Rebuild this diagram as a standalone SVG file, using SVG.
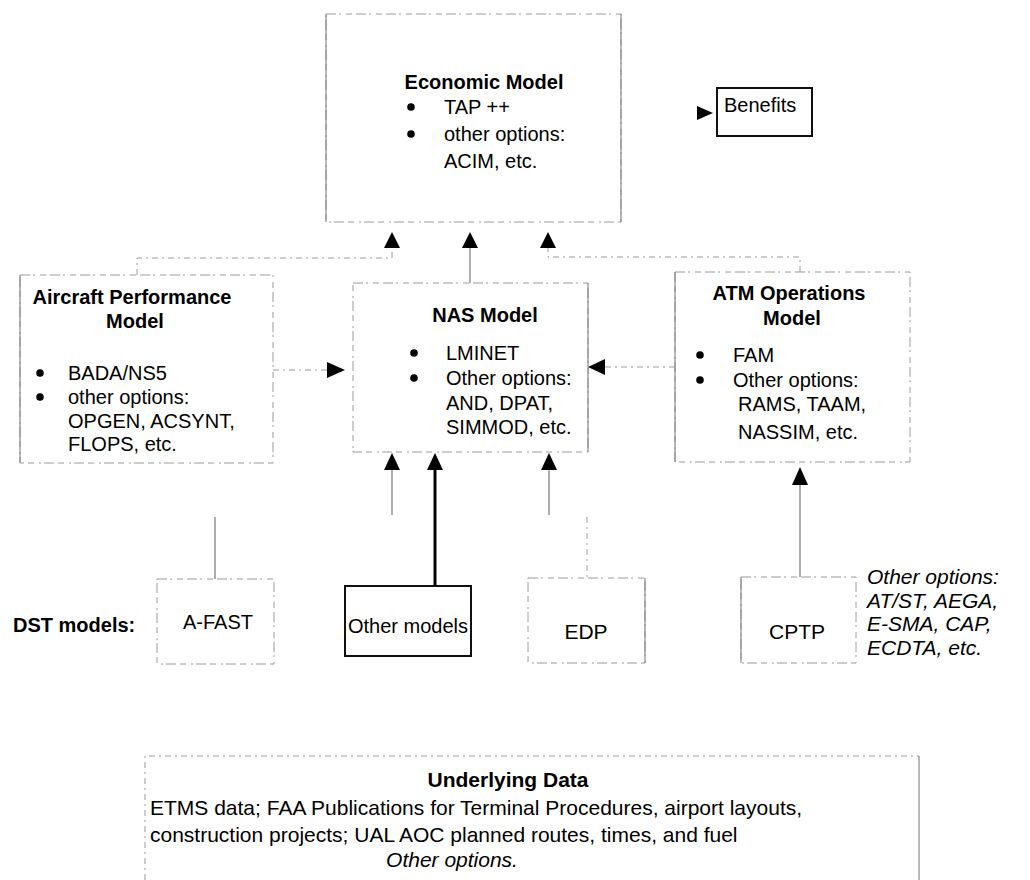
<svg xmlns="http://www.w3.org/2000/svg" width="1030" height="880" viewBox="0 0 1030 880">
<defs>
<style>
text{font-family:"Liberation Sans",Arial,sans-serif;font-size:20px;fill:#000}
.b{font-weight:bold}
.i{font-style:italic}
.m{text-anchor:middle}
.l{font-size:21px}
.box{fill:none;stroke:#9a9a9a;stroke-width:1;stroke-dasharray:10 3 2 5 6 4}
.edge{fill:none;stroke:#8a8a8a;stroke-width:1.2}
.solid{fill:none;stroke:#111;stroke-width:2}
.ln{fill:none;stroke:#777;stroke-width:1.2}
.dl{fill:none;stroke:#9a9a9a;stroke-width:1;stroke-dasharray:6 4 2 4}
.thick{fill:none;stroke:#000;stroke-width:3}
.ah{fill:#000}
</style>
</defs>
<rect width="1030" height="880" fill="#fff"/>

<g id="economic">
<rect class="box" x="326" y="14" width="295" height="208"/>
<line class="edge" x1="326" y1="14" x2="326" y2="222"/>
<line class="edge" x1="621" y1="14" x2="621" y2="222"/>
<text class="b m" x="484" y="89">Economic Model</text>
<circle cx="411" cy="107" r="3.8"/>
<text x="444" y="114">TAP  ++</text>
<circle cx="411" cy="134" r="3.8"/>
<text x="444" y="141">other options:</text>
<text x="444" y="168">ACIM, etc.</text>
</g>

<g id="benefits">
<rect class="solid" x="717" y="88" width="95" height="48"/>
<text x="724" y="112">Benefits</text>
</g>

<g id="aircraft">
<rect class="box" x="20" y="275" width="253" height="188"/>
<line class="edge" x1="20" y1="275" x2="20" y2="463"/>
<text class="b m" x="132" y="304">Aircraft Performance</text>
<text class="b m" x="135" y="328">Model</text>
<circle cx="40" cy="373" r="3.8"/>
<text x="68" y="380">BADA/NS5</text>
<circle cx="40" cy="397" r="3.8"/>
<text x="68" y="404">other options:</text>
<text x="68" y="428">OPGEN,  ACSYNT,</text>
<text x="68" y="451">FLOPS, etc.</text>
</g>

<g id="nas">
<rect class="box" x="353" y="283" width="235" height="169"/>
<line class="edge" x1="588" y1="283" x2="588" y2="452"/>
<text class="b m" x="485" y="322">NAS Model</text>
<circle cx="414" cy="353" r="3.8"/>
<text x="446" y="360">LMINET</text>
<circle cx="414" cy="378" r="3.8"/>
<text x="446" y="385">Other options:</text>
<text x="446" y="410">AND, DPAT,</text>
<text x="446" y="434">SIMMOD, etc.</text>
</g>

<g id="atm">
<rect class="box" x="675" y="272" width="235" height="190"/>
<line class="edge" x1="675" y1="272" x2="675" y2="462"/>
<text class="b m" x="789" y="300">ATM Operations</text>
<text class="b m" x="792" y="325">Model</text>
<circle cx="700" cy="355" r="3.8"/>
<text x="733" y="362">FAM</text>
<circle cx="700" cy="380" r="3.8"/>
<text x="733" y="387">Other options:</text>
<text x="738" y="411">RAMS, TAAM,</text>
<text x="738" y="439">NASSIM, etc.</text>
</g>

<g id="dst-label">
<text class="b" x="13" y="632">DST models:</text>
</g>

<g id="afast">
<rect class="box" x="157" y="579" width="117" height="85"/>
<text class="m" x="218" y="629">A-FAST</text>
</g>

<g id="other-models">
<rect class="solid" x="345" y="586" width="126" height="70"/>
<text class="m" x="408" y="633">Other models</text>
</g>

<g id="edp">
<rect class="box" x="528" y="578" width="117" height="85"/>
<line class="edge" x1="645" y1="578" x2="645" y2="663"/>
<text class="m l" x="586" y="639">EDP</text>
</g>

<g id="cptp">
<rect class="box" x="741" y="577" width="115" height="86"/>
<line class="edge" x1="741" y1="577" x2="741" y2="663"/>
<text class="m l" x="797" y="639">CPTP</text>
</g>

<g id="dst-options">
<text class="i l" x="867" y="584">Other options:</text>
<text class="i l" x="867" y="608">AT/ST, AEGA,</text>
<text class="i l" x="867" y="631">E-SMA, CAP,</text>
<text class="i l" x="867" y="655">ECDTA, etc.</text>
</g>

<g id="underlying">
<path class="dl" d="M145,880 V756 H919"/>
<line class="edge" x1="919" y1="756" x2="919" y2="880"/>
<text class="b m l" x="508" y="787">Underlying Data</text>
<text class="l" x="150" y="815">ETMS data; FAA Publications for Terminal Procedures, airport layouts,</text>
<text class="l" x="150" y="842">construction projects; UAL AOC planned routes, times, and fuel</text>
<text class="i m l" x="452" y="867">Other options.</text>
</g>

<g id="connectors">
<path class="dl" d="M137,275 V258 H392 V248"/>
<path class="dl" d="M800,272 V257 H548 V248"/>
<line class="ln" x1="470" y1="248" x2="470" y2="283"/>
<polygon class="ah" points="392,232 384,248 400,248"/>
<polygon class="ah" points="470,232 462,248 478,248"/>
<polygon class="ah" points="548,232 540,248 556,248"/>
<polygon class="ah" points="713,113 697,106 697,120"/>
<line class="dl" x1="273" y1="370" x2="327" y2="370"/>
<polygon class="ah" points="345,370 327,362 327,378"/>
<line class="dl" x1="605" y1="367" x2="675" y2="367"/>
<polygon class="ah" points="588,367 605,359 605,375"/>
<polygon class="ah" points="392,453 384,470 400,470"/>
<polygon class="ah" points="435,453 427,470 443,470"/>
<polygon class="ah" points="549,453 541,470 557,470"/>
<line class="ln" x1="392" y1="470" x2="392" y2="515"/>
<line class="thick" x1="435" y1="470" x2="435" y2="586"/>
<line class="ln" x1="549" y1="470" x2="549" y2="515"/>
<line class="ln" x1="215" y1="517" x2="215" y2="579"/>
<line class="dl" x1="587" y1="517" x2="587" y2="578"/>
<polygon class="ah" points="800,467 792,485 808,485"/>
<line class="ln" x1="800" y1="485" x2="800" y2="577"/>
</g>
</svg>
